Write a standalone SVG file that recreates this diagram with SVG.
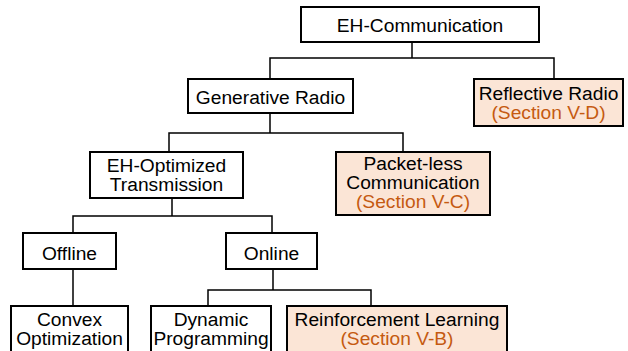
<svg xmlns="http://www.w3.org/2000/svg" width="628" height="351" viewBox="0 0 628 351">
<style>
.box{fill:#fff;stroke:#000;stroke-width:2}
.hl{fill:#fbe5d6;stroke:#000;stroke-width:2}
.t{font-family:"Liberation Sans",Arial,sans-serif;font-size:19.2px;fill:#000;text-anchor:middle}
.s{fill:#c55a11}
.c{fill:none;stroke:#000;stroke-width:1.5}
</style>
<rect width="628" height="351" fill="#fff"/>
<g id="connectors">
<path class="c" d="M412,42V58M270,79V58H554V79"/>
<path class="c" d="M270,113V133M169,152V133H403V152"/>
<path class="c" d="M172,198V216M73,233V216H272V233"/>
<path class="c" d="M73,269V306"/>
<path class="c" d="M273,269V290M208,306V290H371V306"/>
</g>
<g id="eh-communication">
<rect class="box" x="301" y="7" width="238" height="35"/>
<text class="t" x="420" y="32">EH-Communication</text>
</g>
<g id="generative-radio">
<rect class="box" x="188" y="79" width="165" height="34"/>
<text class="t" x="270.5" y="104">Generative Radio</text>
</g>
<g id="reflective-radio">
<rect class="hl" x="474" y="79" width="149" height="47"/>
<text class="t" x="548.5" y="100">Reflective Radio</text>
<text class="t s" x="548.5" y="119">(Section V-D)</text>
</g>
<g id="eh-optimized">
<rect class="box" x="90" y="152" width="153" height="46"/>
<text class="t" x="166.5" y="172">EH-Optimized</text>
<text class="t" x="166.5" y="191">Transmission</text>
</g>
<g id="packet-less">
<rect class="hl" x="336" y="152" width="154" height="63"/>
<text class="t" x="413" y="170">Packet-less</text>
<text class="t" x="413" y="189">Communication</text>
<text class="t s" x="413" y="208">(Section V-C)</text>
</g>
<g id="offline">
<rect class="box" x="23" y="233" width="93" height="36"/>
<text class="t" x="69.5" y="260">Offline</text>
</g>
<g id="online">
<rect class="box" x="226" y="233" width="91" height="36"/>
<text class="t" x="271.5" y="260">Online</text>
</g>
<g id="convex">
<rect class="box" x="11" y="306" width="117" height="60"/>
<text class="t" x="69.5" y="326">Convex</text>
<text class="t" x="69.5" y="345">Optimization</text>
</g>
<g id="dynamic">
<rect class="box" x="151" y="306" width="120" height="60"/>
<text class="t" x="211" y="326">Dynamic</text>
<text class="t" x="211" y="345">Programming</text>
</g>
<g id="reinforcement">
<rect class="hl" x="287" y="306" width="220" height="60"/>
<text class="t" x="397" y="326">Reinforcement Learning</text>
<text class="t s" x="397" y="345">(Section V-B)</text>
</g>
</svg>
